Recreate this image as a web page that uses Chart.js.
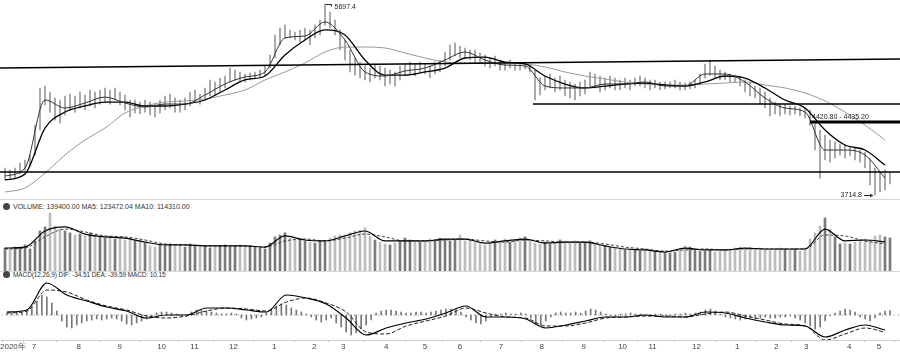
<!DOCTYPE html>
<html>
<head>
<meta charset="utf-8">
<script src="https://cdn.jsdelivr.net/npm/chart.js@4.4.1/dist/chart.umd.min.js"></script>
<style>
  body { margin: 0; background: #fff; width: 900px; height: 352px; overflow: hidden; position: relative;
         font-family: "Liberation Sans", Arial, sans-serif; }
  canvas { position: absolute; left: 0; }
  .hdr { position: absolute; left: 3px; font-size: 7px; color: #333; line-height: 8px; white-space: nowrap; }
  .hdr.narrow { font-size: 6.5px; letter-spacing: -0.1px; }
  .hdr i { display: inline-block; width: 7px; height: 7px; border-radius: 50%; background: #444; margin-right: 3px; vertical-align: -1px; }
  .rule { position: absolute; left: 0; width: 900px; height: 0; border-top: 1px solid #d8d8d8; }
</style>
</head>
<body>
<canvas id="priceChart" width="900" height="198" style="top:0"></canvas>
<div class="rule" style="top:199px"></div>
<div class="hdr" style="top:203px"><i></i>VOLUME: 139400.00 MA5: 123472.04 MA10: 114310.00</div>
<canvas id="volChart" width="900" height="60" style="top:211px"></canvas>
<div class="rule" style="top:271px"></div>
<div class="hdr narrow" style="top:271px"><i></i>MACD(12,26,9) DIF: -34.51 DEA: -39.59 MACD: 10.15</div>
<canvas id="macdChart" width="900" height="73" style="top:279px"></canvas>

<script>
// daily-ish bars, roughly 3 sessions per point, late Jun 2020 .. May 2022
const priceHigh = [
  3995, 3974, 3995, 4047, 4078, 4130, 4441, 4826, 4846, 4784,
  4722, 4701, 4743, 4763, 4743, 4784, 4753, 4805, 4784, 4805,
  4826, 4805, 4826, 4784, 4753, 4701, 4701, 4680, 4701, 4680,
  4659, 4701, 4743, 4763, 4722, 4701, 4722, 4784, 4805, 4763,
  4826, 4909, 4888, 4929, 4950, 5033, 5012, 4992, 4971, 4981,
  4992, 5012, 5054, 5168, 5376, 5448, 5479, 5428, 5407, 5428,
  5448, 5428, 5479, 5531, 5697.4, 5614, 5531, 5428, 5324, 5220,
  5137, 5095, 5054, 5033, 5075, 5054, 5033, 5012, 4992, 5054,
  5075, 5095, 5075, 5095, 5075, 5054, 5095, 5116, 5199, 5272,
  5293, 5262, 5241, 5220, 5220, 5189, 5168, 5137, 5158, 5116,
  5095, 5116, 5095, 5085, 5095, 5075, 5012, 4929, 4950, 4971,
  4929, 4950, 4909, 4888, 4867, 4888, 4909, 4992, 4971, 4950,
  4929, 4950, 4929, 4909, 4929, 4909, 4929, 4950, 4929, 4909,
  4909, 4888, 4888, 4888, 4909, 4888, 4877, 4888, 4909, 4971,
  5075, 5116, 5054, 5012, 4992, 4971, 4960, 4950, 4909, 4888,
  4846, 4826, 4784, 4722, 4680, 4659, 4659, 4639, 4639, 4618,
  4618, 4597, 4473, 4390, 4338, 4286, 4265, 4244, 4234, 4224,
  4203, 4182, 4161, 4099, 3995, 3954, 3974, 3954
];
const priceLow = [
  3871, 3881, 3891, 3933, 3974, 4016, 4130, 4390, 4649, 4576,
  4493, 4462, 4545, 4597, 4576, 4618, 4597, 4639, 4618, 4659,
  4680, 4659, 4701, 4649, 4597, 4525, 4566, 4556, 4576, 4545,
  4525, 4566, 4597, 4618, 4576, 4576, 4597, 4639, 4680, 4659,
  4701, 4743, 4753, 4784, 4826, 4888, 4909, 4888, 4888, 4909,
  4919, 4929, 4950, 5033, 5137, 5272, 5345, 5345, 5324, 5303,
  5324, 5272, 5345, 5376, 5479, 5448, 5376, 5220, 5116, 4992,
  4960, 4929, 4909, 4888, 4929, 4909, 4846, 4867, 4846, 4909,
  4950, 4971, 4950, 4992, 4971, 4929, 4971, 4992, 5054, 5116,
  5158, 5137, 5137, 5116, 5095, 5085, 5054, 5033, 5054, 5012,
  5012, 5033, 5012, 5012, 5023, 4992, 4701, 4753, 4805, 4826,
  4784, 4805, 4743, 4722, 4701, 4743, 4763, 4826, 4826, 4784,
  4805, 4826, 4805, 4805, 4826, 4805, 4846, 4846, 4826, 4805,
  4826, 4805, 4815, 4826, 4826, 4805, 4805, 4815, 4826, 4857,
  4929, 4960, 4929, 4909, 4909, 4888, 4888, 4846, 4784, 4743,
  4722, 4659, 4618, 4535, 4556, 4535, 4556, 4545, 4556, 4535,
  4514, 4441, 4182, 3891, 4078, 4057, 4099, 4130, 4099, 4120,
  4078, 4057, 3995, 3819, 3714.8, 3746, 3767, 3829
];

// moving averages, one reading every maStep points
const maStep = 4;
const maFast = [
  3912, 3995, 4701, 4618, 4670, 4732, 4670, 4628, 4659, 4659,
  4753, 4867, 4940, 4992, 5345, 5365, 5511, 5324, 4992, 4950,
  5002, 5033, 5116, 5199, 5116, 5064, 5054, 4846, 4826, 4826,
  4867, 4867, 4888, 4846, 4846, 4971, 4971, 4888, 4722, 4618,
  4576, 4182, 4182, 4130, 3891
];
const maMid = [
  3871, 3933, 4410, 4576, 4639, 4680, 4680, 4639, 4639, 4659,
  4701, 4805, 4909, 4950, 5168, 5324, 5428, 5376, 5116, 4960,
  4960, 4992, 5033, 5137, 5147, 5095, 5075, 4950, 4867, 4826,
  4846, 4867, 4877, 4857, 4846, 4888, 4950, 4929, 4826, 4701,
  4618, 4390, 4234, 4182, 4026
];
const maSlow = [
  3746, 3788, 3943, 4130, 4286, 4410, 4566, 4639, 4680, 4691,
  4711, 4753, 4805, 4909, 4992, 5085, 5199, 5251, 5251, 5241,
  5189, 5137, 5095, 5085, 5085, 5085, 5075, 5044, 4992, 4950,
  4919, 4888, 4867, 4857, 4857, 4867, 4877, 4888, 4857, 4826,
  4774, 4691, 4576, 4441, 4286
];

// drawn support / resistance lines: [point index, price]
const trendTop = [[-1, 5033], [179, 5127]];
const floorLine = [[-1, 3954], [179, 3954]];
const midLine = [[105.6, 4659], [179, 4659]];
const rangeLine = [[161, 4473], [179, 4473]];
const peakIdx = 64, lowIdx = 174;

const volume = [
  97000, 93000, 101000, 97000, 110000, 93000, 127000, 169000, 186000, 245000,
  190000, 177000, 169000, 161000, 152000, 156000, 148000, 161000, 152000, 144000,
  139000, 148000, 135000, 139000, 131000, 139000, 127000, 131000, 118000, 106000,
  101000, 110000, 106000, 114000, 106000, 110000, 101000, 114000, 110000, 101000,
  106000, 97000, 101000, 106000, 110000, 101000, 106000, 110000, 101000, 106000,
  101000, 97000, 93000, 118000, 144000, 152000, 161000, 139000, 131000, 135000,
  127000, 122000, 118000, 127000, 122000, 139000, 148000, 152000, 144000, 161000,
  169000, 173000, 182000, 148000, 131000, 122000, 114000, 110000, 118000, 127000,
  139000, 131000, 127000, 122000, 127000, 135000, 131000, 139000, 135000, 127000,
  131000, 152000, 127000, 131000, 122000, 118000, 110000, 118000, 131000, 127000,
  135000, 122000, 131000, 139000, 144000, 127000, 118000, 114000, 122000, 114000,
  118000, 131000, 127000, 122000, 127000, 118000, 122000, 127000, 118000, 110000,
  106000, 101000, 97000, 93000, 89000, 93000, 89000, 84000, 93000, 89000,
  84000, 80000, 76000, 76000, 80000, 93000, 106000, 101000, 93000, 84000,
  84000, 89000, 80000, 84000, 89000, 93000, 97000, 101000, 97000, 101000,
  93000, 97000, 93000, 89000, 93000, 97000, 93000, 89000, 93000, 84000,
  97000, 135000, 161000, 190000, 224000, 177000, 144000, 114000, 118000, 114000,
  122000, 127000, 135000, 131000, 148000, 152000, 144000, 139400
];
const volMa5 = [
  97000, 101000, 169000, 186000, 156000, 144000, 139000, 122000, 110000, 110000,
  106000, 106000, 106000, 101000, 148000, 131000, 127000, 148000, 169000, 127000,
  127000, 127000, 135000, 135000, 118000, 127000, 135000, 118000, 122000, 122000,
  106000, 93000, 89000, 80000, 97000, 89000, 89000, 97000, 93000, 93000,
  93000, 177000, 127000, 131000, 123472
];
const volMa10 = [
  93000, 97000, 144000, 177000, 165000, 148000, 144000, 131000, 114000, 110000,
  106000, 106000, 106000, 101000, 127000, 135000, 127000, 139000, 156000, 144000,
  127000, 127000, 131000, 135000, 127000, 122000, 131000, 127000, 122000, 122000,
  114000, 101000, 93000, 84000, 89000, 93000, 89000, 93000, 93000, 93000,
  93000, 152000, 148000, 127000, 114310
];

const macdDif = [
  6.9, 11.5, 73.6, 46, 32.2, 18.4, 9.2, -6.9, 0, 0,
  16.1, 16.1, 11.5, 6.9, 46, 39.1, 25.3, -6.9, -46, -29.9,
  -18.4, -9.2, 4.6, 20.7, -4.6, -4.6, -9.2, -29.9, -23, -13.8,
  -4.6, -4.6, 0, -4.6, -4.6, 6.9, 4.6, -6.9, -16.1, -23,
  -25.3, -50.6, -34.5, -23, -34.51
];
const macdDea = [
  4.6, 9.2, 57.5, 52.9, 34.5, 20.7, 11.5, -2.3, -6.9, -2.3,
  9.2, 16.1, 13.8, 9.2, 29.9, 39.1, 27.6, 6.9, -39.1, -43.7,
  -25.3, -13.8, -2.3, 16.1, 4.6, -4.6, -6.9, -25.3, -25.3, -18.4,
  -6.9, -4.6, -2.3, -2.3, -4.6, 2.3, 6.9, -2.3, -11.5, -20.7,
  -25.3, -57.5, -43.7, -29.9, -39.59
];
const macdHist = [
  4.6, 4.6, 6.9, 6.9, 11.5, 18.4, 32.2, 46, 41.4, 27.6,
  9.2, -13.8, -27.6, -29.9, -23, -18.4, -13.8, -11.5, -9.2, -11.5,
  -9.2, -6.9, -9.2, -13.8, -20.7, -23, -18.4, -13.8, -9.2, -4.6,
  4.6, 6.9, 6.9, 4.6, 2.3, -2.3, -2.3, 6.9, 11.5, 11.5,
  9.2, 6.9, 4.6, 2.3, 2.3, 4.6, 2.3, -6.9, -11.5, -9.2,
  -6.9, -4.6, 4.6, 13.8, 20.7, 25.3, 23, 16.1, 11.5, 6.9,
  2.3, -4.6, -11.5, -16.1, -11.5, -6.9, -18.4, -27.6, -39.1, -46,
  -41.4, -32.2, -23, -11.5, 4.6, 9.2, 11.5, 11.5, 9.2, 6.9,
  4.6, 4.6, 6.9, 6.9, 4.6, 6.9, 9.2, 11.5, 13.8, 13.8,
  11.5, 6.9, -4.6, -11.5, -18.4, -20.7, -13.8, -4.6, 2.3, 2.3,
  4.6, 2.3, 2.3, 4.6, 2.3, -6.9, -20.7, -23, -13.8, -4.6,
  4.6, 6.9, 4.6, 4.6, 6.9, 4.6, 9.2, 13.8, 11.5, 6.9,
  2.3, -2.3, -2.3, 2.3, 2.3, 4.6, 2.3, 2.3, -2.3, -2.3,
  2.3, 2.3, -2.3, -2.3, 2.3, 2.3, 4.6, 2.3, 4.6, 6.9,
  11.5, 13.8, 9.2, 2.3, -4.6, -6.9, -9.2, -11.5, -9.2, -6.9,
  -9.2, -6.9, -4.6, -6.9, -6.9, -4.6, -4.6, -2.3, -6.9, -11.5,
  -18.4, -25.3, -32.2, -27.6, -13.8, -2.3, 4.6, 9.2, 13.8, 11.5,
  6.9, -4.6, -9.2, -13.8, -6.9, 4.6, 9.2, 10.15
];

// month boundaries on the point index axis
const monthTicks = [1.2, 5.4, 14.4, 22.6, 31, 37.6, 45.4, 53.6, 61.6, 67.4, 76, 83.8,
                    90.8, 99, 107.2, 115.6, 123.4, 129.4, 138.2, 146.4, 154.2, 160.2, 168.8, 174.8];
const monthLabels = ['2020年', '7', '8', '9', '10', '11', '12', '1', '2', '3', '4', '5',
                     '6', '7', '8', '9', '10', '11', '12', '1', '2', '3', '4', '5'];

const FONT = '"Liberation Sans", Arial, sans-serif';
const pts = (arr, step) => arr.map((v, k) => ({x: k * step, y: v}));
const seg = arr => arr.map(p => ({x: p[0], y: p[1]}));

function line(data, color, width, dash) {
    return {
        type: 'line', data: data, borderColor: color, borderWidth: width,
        borderDash: dash || [], pointRadius: 0, fill: false,
        cubicInterpolationMode: 'monotone', order: 0
    };
}
function flat(data, width) {
    return {type: 'line', data: seg(data), borderColor: '#000', borderWidth: width,
            pointRadius: 0, fill: false, tension: 0, order: 0};
}
function baseOptions(yMin, yMax) {
    return {
        responsive: false, animation: false, events: [],
        layout: {padding: 0},
        plugins: {legend: {display: false}, tooltip: {enabled: false}},
        scales: {
            x: {type: 'linear', min: -1, max: 179, offset: false, display: false},
            y: {min: yMin, max: yMax, display: false}
        }
    };
}

// price labels on the chart (peak, range line, low)
const notes = {
    id: 'notes',
    afterDatasetsDraw(chart) {
        const {ctx, scales: {x, y}} = chart;
        ctx.save();
        ctx.font = '7px ' + FONT;
        ctx.fillStyle = '#222';
        ctx.strokeStyle = '#222';
        ctx.lineWidth = 1;

        let px = Math.round(x.getPixelForValue(peakIdx)) + 0.5;
        let py = Math.round(y.getPixelForValue(priceHigh[peakIdx])) + 0.5;
        ctx.beginPath(); ctx.moveTo(px, py); ctx.lineTo(px + 6, py); ctx.lineTo(px + 6, py + 2); ctx.stroke();
        ctx.textAlign = 'left'; ctx.textBaseline = 'middle';
        ctx.fillText(priceHigh[peakIdx].toFixed(1), px + 9, py + 3);

        px = x.getPixelForValue(rangeLine[0][0]);
        py = y.getPixelForValue(rangeLine[0][1]);
        ctx.textBaseline = 'bottom';
        ctx.fillText('4420.80 - 4435.20', px + 2, py - 1);

        px = Math.round(x.getPixelForValue(lowIdx));
        py = Math.round(y.getPixelForValue(priceLow[lowIdx])) + 0.5;
        ctx.beginPath(); ctx.moveTo(px - 11, py); ctx.lineTo(px - 2, py); ctx.stroke();
        ctx.beginPath(); ctx.moveTo(px - 2, py); ctx.lineTo(px - 5, py - 2); ctx.lineTo(px - 5, py + 2); ctx.closePath(); ctx.fill();
        ctx.textAlign = 'right'; ctx.textBaseline = 'middle';
        ctx.fillText(priceLow[lowIdx].toFixed(1), px - 13, py);
        ctx.restore();
    }
};

// price panel
new Chart(document.getElementById('priceChart'), {
    type: 'bar',
    data: {datasets: [
        flat(trendTop, 1.6), flat(floorLine, 1.6), flat(midLine, 1.6), flat(rangeLine, 3),
        line(pts(maFast, maStep), '#333', 1),
        line(pts(maMid, maStep), '#000', 1.3),
        line(pts(maSlow, maStep), '#9a9a9a', 1),
        {data: priceHigh.map((h, i) => ({x: i, y: [priceLow[i], h]})),
         backgroundColor: '#999', barThickness: 1, order: 10}
    ]},
    options: baseOptions(3684, 5739),
    plugins: [notes]
});

// volume panel, dark bar when the bar's midpoint rose
const volColors = priceHigh.map((h, i) => {
    const m = h + priceLow[i];
    const prev = i ? priceHigh[i - 1] + priceLow[i - 1] : m;
    return m >= prev ? '#7a7a7a' : '#bdbdbd';
});
new Chart(document.getElementById('volChart'), {
    type: 'bar',
    data: {datasets: [
        line(pts(volMa5, maStep), '#000', 1.2),
        line(pts(volMa10, maStep), '#444', 1, [3, 2]),
        {data: volume.map((v, i) => ({x: i, y: v})), backgroundColor: volColors, barThickness: 2, order: 10}
    ]},
    options: baseOptions(0, 253400)
});

// MACD panel with month axis
const macdOpts = baseOptions(-57.5, 82.8);
macdOpts.scales.x = {
    type: 'linear', min: -1, max: 179, offset: false,
    afterBuildTicks: s => { s.ticks = monthTicks.map(v => ({value: v})); },
    afterFit: s => { s.height = 12; },
    ticks: {autoSkip: false, maxRotation: 0, padding: 0, color: '#444',
            font: {size: 8, family: FONT}, callback: (v, k) => monthLabels[k]},
    grid: {drawOnChartArea: false, tickLength: 2, color: '#bbb'},
    border: {color: '#cfcfcf'}
};
new Chart(document.getElementById('macdChart'), {
    type: 'bar',
    data: {datasets: [
        line(pts(macdDif, maStep), '#000', 1.2),
        line(pts(macdDea, maStep), '#222', 1, [4, 2]),
        {type: 'line', data: [{x: -1, y: 0}, {x: 179, y: 0}], borderColor: '#888', borderWidth: 1,
         borderDash: [1, 3], pointRadius: 0, order: 5},
        {data: macdHist.map((v, i) => ({x: i, y: v})), backgroundColor: '#777', barThickness: 1, order: 10}
    ]},
    options: macdOpts
});
</script>
</body>
</html>
